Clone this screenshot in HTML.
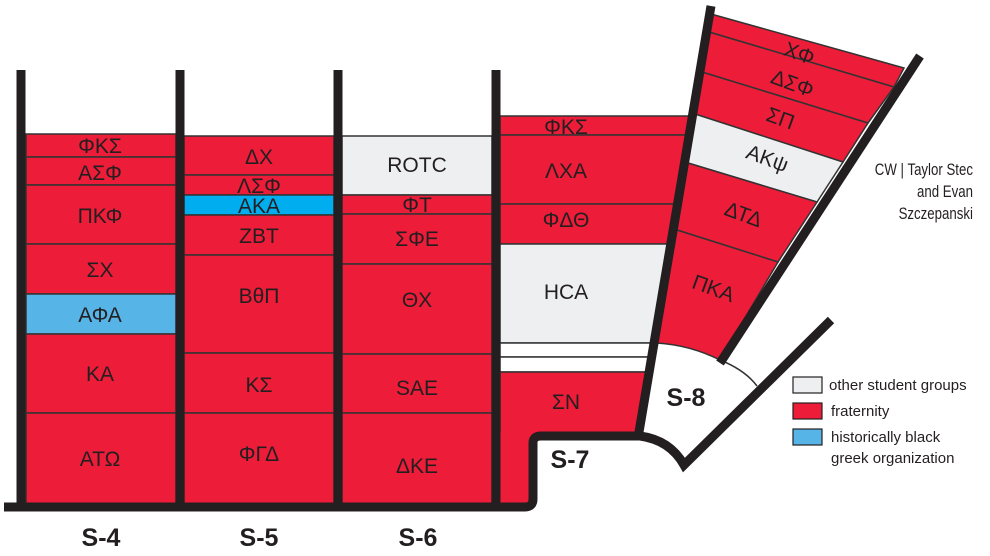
<!DOCTYPE html>
<html><head><meta charset="utf-8"><style>
html,body{margin:0;padding:0;background:#fff}
svg{display:block}
text{font-family:"Liberation Sans","DejaVu Sans",sans-serif;fill:#231f20}
</style></head><body>
<svg width="990" height="556" viewBox="0 0 990 556" xmlns="http://www.w3.org/2000/svg">
<defs>
<clipPath id="c4"><polygon points="500,100 700,100 639,440 500,440"/></clipPath>
</defs>
<g stroke="#333" stroke-width="1.5">
<rect x="26" y="134" width="150" height="23" fill="#ed1c39"/>
<rect x="26" y="157" width="150" height="28" fill="#ed1c39"/>
<rect x="26" y="185" width="150" height="59" fill="#ed1c39"/>
<rect x="26" y="244" width="150" height="50" fill="#ed1c39"/>
<rect x="26" y="294" width="150" height="40" fill="#56b4e6"/>
<rect x="26" y="334" width="150" height="79" fill="#ed1c39"/>
<rect x="26" y="413" width="150" height="92" fill="#ed1c39"/>
<rect x="184" y="136" width="150" height="39" fill="#ed1c39"/>
<rect x="184" y="175" width="150" height="20" fill="#ed1c39"/>
<rect x="184" y="195" width="150" height="20" fill="#00aeef"/>
<rect x="184" y="215" width="150" height="40" fill="#ed1c39"/>
<rect x="184" y="255" width="150" height="98" fill="#ed1c39"/>
<rect x="184" y="353" width="150" height="60" fill="#ed1c39"/>
<rect x="184" y="413" width="150" height="92" fill="#ed1c39"/>
<rect x="342" y="136" width="150" height="59" fill="#eeeff1"/>
<rect x="342" y="195" width="150" height="19" fill="#ed1c39"/>
<rect x="342" y="214" width="150" height="50" fill="#ed1c39"/>
<rect x="342" y="264" width="150" height="90" fill="#ed1c39"/>
<rect x="342" y="354" width="150" height="59" fill="#ed1c39"/>
<rect x="342" y="413" width="150" height="92" fill="#ed1c39"/>
<g clip-path="url(#c4)">
<rect x="500" y="116" width="210" height="19" fill="#ed1c39"/>
<rect x="500" y="135" width="210" height="69" fill="#ed1c39"/>
<rect x="500" y="204" width="210" height="40" fill="#ed1c39"/>
<rect x="500" y="244" width="210" height="99" fill="#eeeff1"/>
<rect x="500" y="343" width="210" height="14" fill="#fff"/>
<rect x="500" y="357" width="210" height="15" fill="#fff"/>
<rect x="500" y="372" width="210" height="68" fill="#ed1c39"/>
</g>
<rect x="500" y="432" width="33" height="73" fill="#ed1c39" stroke="none"/>
<polygon points="711,14 904,68 894,87 709,32" fill="#ed1c39"/>
<polygon points="709,32 894,87 868,123 702,72" fill="#ed1c39"/>
<polygon points="702,72 868,123 843,162 695,114" fill="#ed1c39"/>
<polygon points="695,114 843,162 817,202 688,163" fill="#eeeff1"/>
<polygon points="688,163 817,202 778,262 677,230" fill="#ed1c39"/>
<path d="M677,230 L778,262 L720,360 Q690,345 657,343 Z" fill="#ed1c39"/>
</g>
<path d="M720,360 Q745,370 757,386" fill="none" stroke="#333" stroke-width="1.5"/>
<g stroke="#231f20" stroke-width="9" fill="none" stroke-linecap="butt">
<line x1="21" y1="70" x2="21" y2="505"/>
<line x1="180" y1="70" x2="180" y2="505"/>
<line x1="338" y1="70" x2="338" y2="505"/>
<line x1="496" y1="70" x2="496" y2="505"/>
<path d="M4,507 L525,507 Q533,507 533,499 L533,443 Q533,436 541,436 L640,436"/>
<line x1="711" y1="6" x2="638" y2="438"/>
<line x1="920" y1="56" x2="720" y2="363"/>
<path d="M640,436 Q670,440 684,465 L831,320"/>
</g>
<g font-size="21" text-anchor="middle">
<text x="100" y="153">ΦΚΣ</text>
<text x="100" y="180">ΑΣΦ</text>
<text x="100" y="223">ΠΚΦ</text>
<text x="100" y="277">ΣΧ</text>
<text x="100" y="322">ΑΦΑ</text>
<text x="100" y="381">ΚΑ</text>
<text x="100" y="466">ΑΤΩ</text>
<text x="259" y="164">ΔΧ</text>
<text x="259" y="193">ΛΣΦ</text>
<text x="259" y="213">ΑΚΑ</text>
<text x="259" y="243">ΖΒΤ</text>
<text x="259" y="303">ΒθΠ</text>
<text x="259" y="392">ΚΣ</text>
<text x="259" y="461">ΦΓΔ</text>
<text x="417" y="172">ROTC</text>
<text x="417" y="212">ΦΤ</text>
<text x="417" y="246">ΣΦΕ</text>
<text x="417" y="307">ΘΧ</text>
<text x="417" y="395">SAE</text>
<text x="417" y="473">ΔΚΕ</text>
<text x="566" y="134">ΦΚΣ</text>
<text x="566" y="178">ΛΧΑ</text>
<text x="566" y="227">ΦΔΘ</text>
<text x="566" y="299">HCA</text>
<text x="566" y="409">ΣΝ</text>
<text transform="translate(797,60) rotate(20)">ΧΦ</text>
<text transform="translate(790,90) rotate(20)">ΔΣΦ</text>
<text transform="translate(778,125) rotate(20)">ΣΠ</text>
<text transform="translate(765,165) rotate(20)">ΑΚψ</text>
<text transform="translate(741,221) rotate(20)">ΔΤΔ</text>
<text transform="translate(711,295) rotate(20)">ΠΚΑ</text>
</g>
<g font-size="25" font-weight="bold" text-anchor="middle">
<text x="101" y="546">S-4</text>
<text x="259" y="546">S-5</text>
<text x="418" y="546">S-6</text>
<text x="570" y="468">S-7</text>
<text x="686" y="406">S-8</text>
</g>
<g stroke="#231f20" stroke-width="1.2">
<rect x="793" y="377" width="29" height="16" fill="#eeeff1"/>
<rect x="793" y="403" width="29" height="16" fill="#ed1c39"/>
<rect x="793" y="429" width="29" height="16" fill="#56b4e6"/>
</g>
<g font-size="15">
<text x="829" y="390">other student groups</text>
<text x="831" y="416">fraternity</text>
<text x="831" y="442">historically black</text>
<text x="831" y="463">greek organization</text>
</g>
<g font-size="17" text-anchor="end" transform="translate(973,0) scale(0.78,1) translate(-973,0)">
<text x="973" y="175">CW | Taylor Stec</text>
<text x="973" y="197">and Evan</text>
<text x="973" y="219">Szczepanski</text>
</g>
</svg>
</body></html>
